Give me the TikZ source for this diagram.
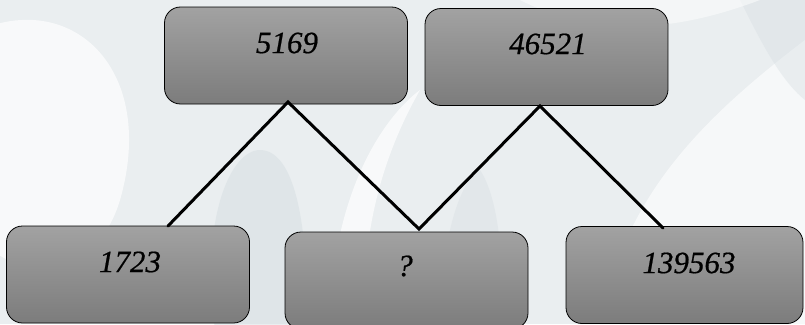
\documentclass[tikz,border=0pt]{standalone}
\usepackage{fontspec}
\setmainfont{Liberation Serif}
\newfontfamily\numfont[FakeBold=0.6]{Liberation Serif Italic}
\usetikzlibrary{calc}
\definecolor{bgA}{RGB}{234,238,240}
\definecolor{bgB}{RGB}{214,222,226}
\definecolor{boxTop}{RGB}{162,162,162}
\definecolor{boxBot}{RGB}{124,124,124}
\tikzset{
  numbox/.style={draw=black, line width=0.8pt, rounded corners=16pt, top color=boxTop, bottom color=boxBot, minimum width=243pt, minimum height=97pt, inner sep=0pt},
  lbl/.style={font=\fontsize{31}{33}\numfont, inner sep=0pt, anchor=center},
  link/.style={line width=3pt, line cap=round, line join=miter}
}
\begin{document}
\begin{tikzpicture}[x=1pt,y=-1pt]
\useasboundingbox (0,0) rectangle (805,324);
% background
\fill[bgA] (0,0) rectangle (805,324);
\begin{scope}
\clip (0,0) rectangle (805,324);
\fill[white, opacity=0.7] (-40,40) .. controls (60,-20) and (160,60) .. (120,200) .. controls (90,300) and (-20,280) .. (-40,200) -- cycle;
\fill[bgB, opacity=0.5] (215,330) .. controls (200,220) and (230,150) .. (260,150) .. controls (300,150) and (310,250) .. (305,330) -- cycle;
\fill[white, opacity=0.7] (330,330) .. controls (330,200) and (380,120) .. (420,90) .. controls (380,160) and (360,240) .. (365,330) -- cycle;
\fill[bgB, opacity=0.4] (440,330) .. controls (440,240) and (460,180) .. (480,170) .. controls (500,200) and (505,270) .. (500,330) -- cycle;
\fill[white, opacity=0.6] (600,330) .. controls (620,200) and (700,120) .. (805,40) -- (805,330) -- cycle;
\fill[bgB, opacity=0.4] (740,0) .. controls (760,40) and (780,80) .. (805,100) -- (805,0) -- cycle;
\fill[white, opacity=0.5] (520,0) .. controls (600,40) and (680,30) .. (760,0) -- cycle;
\end{scope}
% boxes
\node[numbox] (a) at (286,55.5) {};
\node[numbox] (b) at (546.5,57) {};
\node[numbox] (c) at (128,274.5) {};
\node[numbox] (d) at (406.5,280.5) {};
\node[numbox, minimum width=237pt] (e) at (684.5,275) {};
% labels
\node[lbl] (ta) at (287,43) {5169};
\node[lbl] (tb) at (548,44) {46521};
\node[lbl] (tc) at (130,262) {1723};
\node[lbl] (td) at (405,266) {?};
\node[lbl] (te) at (689,263) {139563};
% connectors
\coordinate (p1) at (288,102);
\coordinate (q1) at (168,226);
\coordinate (v) at (419,229);
\coordinate (p2) at (540,106);
\coordinate (q2) at (663,228);
\draw[link] (q1) -- (p1) -- (v) -- (p2) -- (q2);
\end{tikzpicture}
\end{document}
